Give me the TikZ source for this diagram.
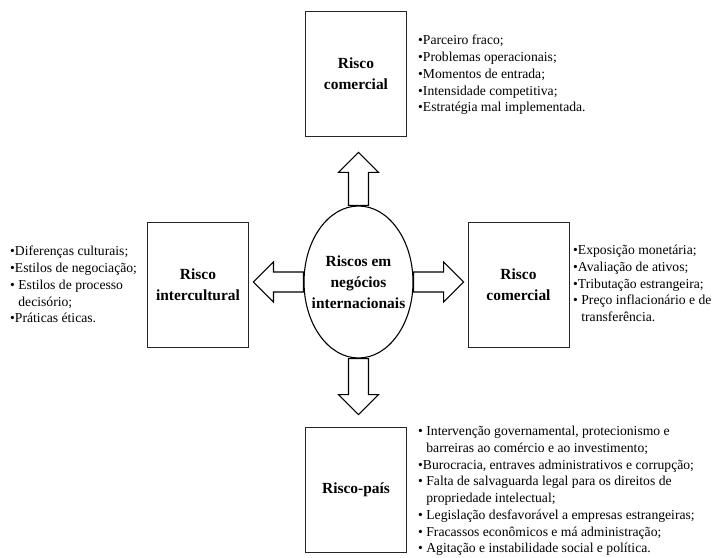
\documentclass[tikz,border=0pt]{standalone}
\usepackage{fontspec}
\setmainfont{Liberation Serif}
\usetikzlibrary{shapes.geometric}
\tikzset{
    riskbox/.style={draw=black!85, line width=0.8pt, minimum width=101bp, minimum height=125bp,
        inner sep=0pt, align=center, font=\fontsize{15.5}{21}\selectfont\bfseries},
    itemlist/.style={anchor=north west, inner sep=0pt, align=left,
        font=\fontsize{13.7}{16.8}\selectfont},
    pics/fatarrow/.style={code={
        \draw[line width=1.1pt, line join=miter] (0,-10) -- (#1,-10) -- (#1,-20) -- (#1+20,0)
            -- (#1,20) -- (#1,10) -- (0,10) -- cycle;
    }}
}
\begin{document}
\begin{tikzpicture}[x=1bp, y=-1bp]
    \useasboundingbox (0,0) rectangle (713,558);

    \node[ellipse, draw, line width=1.1pt, minimum width=109bp, minimum height=152bp, inner sep=0pt,
        label={[align=center, font=\fontsize{15.5}{21}\selectfont\bfseries]center:Riscos em\\negócios\\internacionais}]
        (hub) at (358.5,282) {};

    \node[riskbox] (topbox) at (356,73.5) {Risco\\comercial};
    \node[riskbox] (leftbox) at (198,285) {Risco\\intercultural};
    \node[riskbox] (rightbox) at (518.5,285) {Risco\\comercial};
    \node[riskbox] (bottombox) at (356,489.5) {Risco-país};

    \pic[rotate=90] at (hub.north) {fatarrow=33};
    \pic[rotate=180] at (hub.west) {fatarrow=30};
    \pic at (hub.east) {fatarrow=30};
    \pic[rotate=-90] at (hub.south) {fatarrow=36};

    \node[itemlist] (topitems) at (418,35) {•Parceiro fraco;\\•Problemas operacionais;\\
        •Momentos de entrada;\\•Intensidade competitiva;\\•Estratégia mal implementada.};
    \node[itemlist] (leftitems) at (10,246) {•Diferenças culturais;\\•Estilos de negociação;\\
        • Estilos de processo\\\phantom{• }decisório;\\•Práticas éticas.};
    \node[itemlist] (rightitems) at (573,245) {•Exposição monetária;\\•Avaliação de ativos;\\
        •Tributação estrangeira;\\• Preço inflacionário e de\\\phantom{• }transferência.};
    \node[itemlist] (bottomitems) at (418,426) {• Intervenção governamental, protecionismo e\\
        \phantom{• }barreiras ao comércio e ao investimento;\\
        •Burocracia, entraves administrativos e corrupção;\\
        • Falta de salvaguarda legal para os direitos de\\
        \phantom{• }propriedade intelectual;\\
        • Legislação desfavorável a empresas estrangeiras;\\
        • Fracassos econômicos e má administração;\\
        • Agitação e instabilidade social e política.};
\end{tikzpicture}
\end{document}
